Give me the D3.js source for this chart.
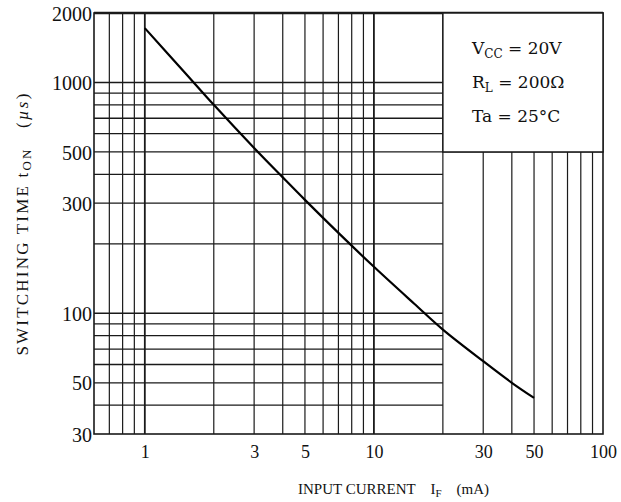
<!DOCTYPE html>
<html>
<head>
<meta charset="utf-8">
<script src="https://cdn.jsdelivr.net/npm/d3@7"></script>
<style>
  body { margin: 0; background: #fff; }
  svg { display: block; }
  text { font-family: "Liberation Serif", "DejaVu Serif", serif; fill: #111; }
</style>
</head>
<body>
<svg width="621" height="502"></svg>
<script>
// данные кривой
const currentIF = [1, 1.5, 2, 3, 4, 5, 7, 10, 15, 20, 30, 40, 50];
const timeTon = [1720, 1100, 800, 520, 388, 310, 223, 159, 110, 85, 62, 50, 43];

// сетка и подписи
const gridX = [0.7, 0.8, 0.9, 1, 2, 3, 4, 5, 6, 7, 8, 9, 10, 20, 30, 40, 50, 60, 70, 80, 90];
const gridY = [40, 50, 60, 70, 80, 90, 100, 200, 300, 400, 500, 600, 700, 800, 900, 1000];
const tickX = [1, 3, 5, 10, 30, 50, 100];
const tickY = [30, 50, 100, 300, 500, 1000, 2000];
const majorLines = [1, 10, 100, 1000];

// рамка с условиями
const boxFrom = { x: 20, y: 500 };
const conditions = [
  ["V", "CC", " = 20V"],
  ["R", "L", " = 200Ω"],
  ["Ta = 25°C", "", ""],
];

const attr_area = { left: 94, right: 603, top: 13, bottom: 434 };

const svg = d3.select("svg");

const scX = d3.scaleLog().domain([0.6, 100]).range([attr_area.left, attr_area.right]);
const scY = d3.scaleLog().domain([30, 2000]).range([attr_area.bottom, attr_area.top]);

function drawGrid() {
  const g = svg.append("g").attr("stroke", "#1a1a1a");

  g.selectAll(".vline")
    .data(gridX)
    .enter()
    .append("line")
    .attr("x1", (d) => scX(d))
    .attr("x2", (d) => scX(d))
    .attr("y1", (d) => (d > boxFrom.x ? scY(boxFrom.y) : attr_area.top))
    .attr("y2", attr_area.bottom)
    .attr("stroke-width", (d) => (majorLines.includes(d) ? 1.8 : 1.2));

  g.selectAll(".hline")
    .data(gridY)
    .enter()
    .append("line")
    .attr("x1", attr_area.left)
    .attr("x2", (d) => (d >= boxFrom.y ? attr_area.right : scX(boxFrom.x)))
    .attr("y1", (d) => scY(d))
    .attr("y2", (d) => scY(d))
    .attr("stroke-width", (d) => (majorLines.includes(d) ? 1.5 : 1.3));

  // рамка графика
  g.append("rect")
    .attr("x", attr_area.left)
    .attr("y", attr_area.top)
    .attr("width", attr_area.right - attr_area.left)
    .attr("height", attr_area.bottom - attr_area.top)
    .attr("fill", "none")
    .attr("stroke-width", 1.6);
  g.append("line")
    .attr("x1", attr_area.left)
    .attr("x2", attr_area.right)
    .attr("y1", attr_area.top)
    .attr("y2", attr_area.top)
    .attr("stroke-width", 2.6);

  // рамка с условиями
  g.append("rect")
    .attr("x", scX(boxFrom.x))
    .attr("y", attr_area.top)
    .attr("width", attr_area.right - scX(boxFrom.x))
    .attr("height", scY(boxFrom.y) - attr_area.top)
    .attr("fill", "#fff")
    .attr("stroke-width", 1.5);
}

function drawAxis() {
  const axisX = d3.axisBottom(scX).tickValues(tickX).tickFormat(d3.format("d")).tickSize(0);
  const axisY = d3.axisLeft(scY).tickValues(tickY).tickFormat(d3.format("d")).tickSize(0).tickPadding(2);

  const gx = svg.append("g")
    .attr("transform", `translate(0, ${attr_area.bottom})`)
    .call(axisX);
  gx.select(".domain").remove();
  gx.selectAll("text")
    .attr("y", 24)
    .attr("dy", null)
    .style("font-size", "18px")
    .style("font-family", "'Liberation Serif', serif")
    .attr("fill", "#111");

  const gy = svg.append("g")
    .attr("transform", `translate(${attr_area.left}, 0)`)
    .call(axisY);
  gy.select(".domain").remove();
  gy.selectAll("text")
    .attr("dy", "0.36em")
    .style("font-size", "20px")
    .style("font-family", "'Liberation Serif', serif")
    .attr("fill", "#111");

  // подпись оси X
  const tx = svg.append("text")
    .attr("x", 298)
    .attr("y", 494)
    .style("font-size", "15px")
    .style("white-space", "pre");
  tx.append("tspan").text("INPUT CURRENT    I");
  tx.append("tspan").attr("dy", 3).style("font-size", "11px").text("F");
  tx.append("tspan").attr("dy", -3).text("    (mA)");

  // подпись оси Y
  const ty = svg.append("text")
    .attr("transform", `translate(28, ${(attr_area.top + attr_area.bottom) / 2}) rotate(-90)`)
    .attr("text-anchor", "middle")
    .style("font-size", "17px")
    .style("letter-spacing", "2.2px")
    .style("white-space", "pre");
  ty.append("tspan").text("SWITCHING TIME t");
  ty.append("tspan").attr("dy", 3).style("font-size", "13px").text("ON");
  ty.append("tspan").attr("dy", -3).text("   (");
  ty.append("tspan").style("font-style", "italic").text("µs");
  ty.append("tspan").text(")");
}

function drawConditions() {
  const lines = svg.append("g")
    .selectAll("text")
    .data(conditions)
    .enter()
    .append("text")
    .attr("x", 472)
    .attr("y", (d, i) => [54, 88, 122][i])
    .style("font-family", "'DejaVu Serif', serif")
    .style("font-size", "17px")
    .style("white-space", "pre");
  lines.append("tspan").text((d) => d[0]);
  lines.append("tspan").attr("dy", 4).style("font-size", "12px").text((d) => d[1]);
  lines.append("tspan").attr("dy", -4).text((d) => d[2]);
}

function drawCurve() {
  const pts = currentIF.map((d, i) => [d, timeTon[i]]);
  const line = d3.line()
    .x((d) => scX(d[0]))
    .y((d) => scY(d[1]))
    .curve(d3.curveCatmullRom);
  svg.append("path")
    .datum(pts)
    .attr("d", line)
    .attr("fill", "none")
    .attr("stroke", "#000")
    .attr("stroke-width", 2.2);
}

drawGrid();
drawCurve();
drawAxis();
drawConditions();
</script>
</body>
</html>
